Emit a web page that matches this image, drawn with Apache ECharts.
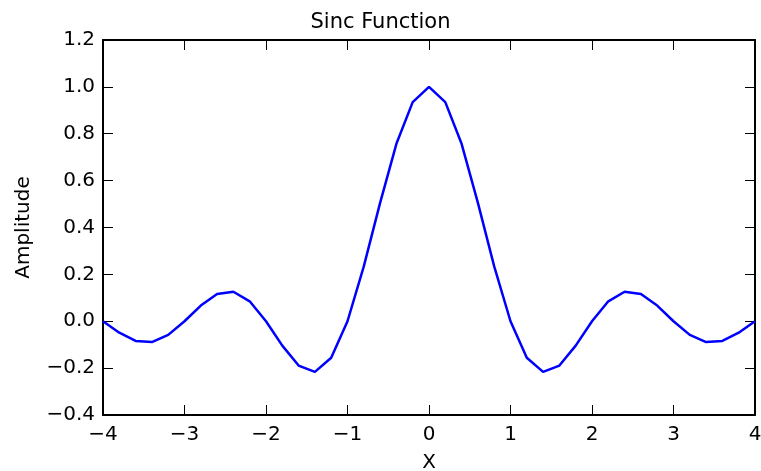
<!DOCTYPE html>
<html>
<head>
<meta charset="utf-8">
<script src="https://cdn.jsdelivr.net/npm/echarts@6/dist/echarts.min.js"></script>
<style>html,body{margin:0;padding:0;background:#fff}#c{width:761px;height:471px}</style>
</head>
<body>
<div id="c"></div>
<script>
var xValues = [-4.0,-3.8,-3.6,-3.4,-3.2,-3.0,-2.8,-2.6,-2.4,-2.2,-2.0,-1.8,-1.6,-1.4,-1.2,-1.0,-0.8,-0.6,-0.4,-0.2,0.0,0.2,0.4,0.6,0.8,1.0,1.2,1.4,1.6,1.8,2.0,2.2,2.4,2.6,2.8,3.0,3.2,3.4,3.6,3.8,4.0];
var yValues = [0.000,-0.049,-0.084,-0.089,-0.058,0.000,0.067,0.116,0.126,0.085,0.000,-0.104,-0.189,-0.216,-0.156,0.000,0.234,0.505,0.757,0.935,1.000,0.935,0.757,0.505,0.234,0.000,-0.156,-0.216,-0.189,-0.104,0.000,0.085,0.126,0.116,0.067,0.000,-0.058,-0.089,-0.084,-0.049,0.000];
var title = 'Sinc Function';
var xLabel = 'X';
var yLabel = 'Amplitude';

var font = 'DejaVu Sans';
function fmt(d){ return function(v){ return (d ? v.toFixed(d) : String(Math.round(v))).replace('-', '\u2212'); }; }
var tickStyle = {show:true, inside:true, length:10, lineStyle:{color:'#000', width:1}};
var lineStyle = {show:true, onZero:false, lineStyle:{color:'#000', width:2}};
var data = xValues.map(function(x,i){ return [x, yValues[i]]; });

var chart = echarts.init(document.getElementById('c'));
chart.setOption({
  animation:false,
  title:{text:title, left:'center', top:7, textStyle:{fontFamily:font, fontSize:21, fontWeight:'normal', color:'#000'}},
  grid:{left:103, top:40, right:6, bottom:56, containLabel:false, outerBoundsMode:'none'},
  xAxis:[
    {type:'value', min:-4, max:4, interval:1, position:'bottom',
     name:xLabel, nameLocation:'middle', nameGap:38, nameTextStyle:{fontFamily:font, fontSize:20, color:'#000'},
     axisLine:lineStyle, axisTick:tickStyle, splitLine:{show:false},
     axisLabel:{formatter:fmt(0), fontFamily:font, fontSize:20, color:'#000', margin:10}},
    {type:'value', min:-4, max:4, interval:1, position:'top',
     axisLine:lineStyle, axisTick:tickStyle, splitLine:{show:false}, axisLabel:{show:false}}
  ],
  yAxis:[
    {type:'value', min:-0.4, max:1.2, interval:0.2, position:'left',
     name:yLabel, nameLocation:'middle', nameGap:69, nameTextStyle:{fontFamily:font, fontSize:20, color:'#000'},
     axisLine:lineStyle, axisTick:tickStyle, splitLine:{show:false},
     axisLabel:{formatter:fmt(1), fontFamily:font, fontSize:20, color:'#000', margin:8}},
    {type:'value', min:-0.4, max:1.2, interval:0.2, position:'right',
     axisLine:lineStyle, axisTick:tickStyle, splitLine:{show:false}, axisLabel:{show:false}}
  ],
  series:[{type:'line', data:data, showSymbol:false, symbol:'none', lineStyle:{color:'#0000ff', width:2.5}, itemStyle:{color:'#0000ff'}}]
});
</script>
</body>
</html>
